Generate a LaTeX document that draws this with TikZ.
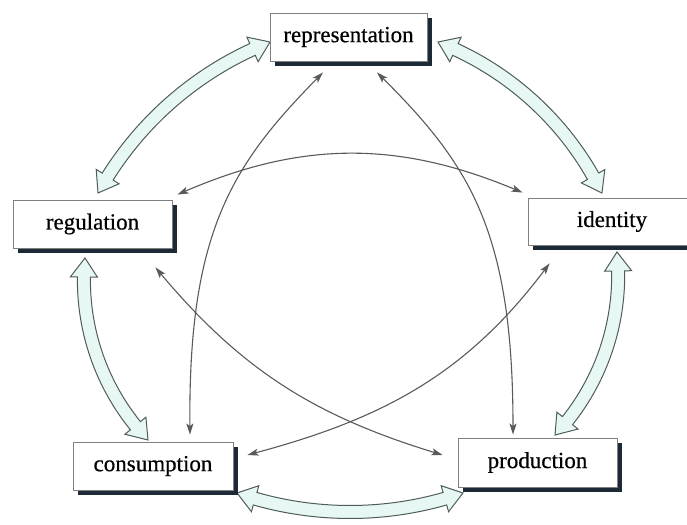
\documentclass[tikz,border=0pt]{standalone}
\usepackage{fontspec}
\setmainfont{Liberation Serif}
\newfontfamily\lblfont[UprightFeatures={FakeBold=0.5}]{Liberation Serif}
\usetikzlibrary{arrows.meta,shadows}
\definecolor{hfill}{HTML}{E6F7F4}
\definecolor{hline}{HTML}{4E5C5A}
\definecolor{shadowc}{HTML}{1B2A36}
\definecolor{thinc}{HTML}{5A5A5A}
\tikzset{
  box/.style={draw=black!50, line width=0.9pt, fill=white, minimum height=48pt,
    inner sep=0pt, font=\lblfont\fontsize{23}{26}\selectfont,
    general shadow={fill=shadowc, shadow xshift=5pt, shadow yshift=-5pt}},
  harrow/.style={fill=hfill, draw=hline, line width=1pt, line join=miter},
  thinarr/.style={draw=thinc, line width=1.1pt,
    {Stealth[length=11pt,width=7pt,inset=2.5pt]}-{Stealth[length=11pt,width=7pt,inset=2.5pt]}}
}
% #1,#2 centre, #3 radius, #4 start angle, #5 end angle, #6 head angle
\newcommand{\hollowarc}[6]{%
  \filldraw[harrow, shift={(#1,#2)}]
    (#4:#3) -- ({#4+#6}:{#3+13.5}) -- ({#4+#6}:{#3+6.5})
    arc[start angle={#4+#6}, end angle={#5-#6}, radius={#3+6.5}]
    -- ({#5-#6}:{#3+13.5}) -- (#5:#3) -- ({#5-#6}:{#3-13.5}) -- ({#5-#6}:{#3-6.5})
    arc[start angle={#5-#6}, end angle={#4+#6}, radius={#3-6.5}]
    -- ({#4+#6}:{#3-13.5}) -- cycle;}
\begin{document}
\begin{tikzpicture}[x=1pt,y=1pt]
\useasboundingbox[fill=white] (0,0) rectangle (687,524);
% hollow double arrows
\hollowarc{393.4}{168.0}{337.4}{111.45}{151.11}{3.23}
\hollowarc{326.7}{196.6}{306.3}{26.02}{68.70}{3.55}
\hollowarc{385.5}{248.4}{232.7}{-43.24}{5.82}{4.68}
\hollowarc{315.2}{243.8}{231.3}{174.49}{223.70}{4.71}
\hollowarc{350}{357.5}{345.5}{250.91}{289.09}{3.15}
% boxes
\node[box, minimum width=157pt] (rep) at (348.5,487) {representation};
\node[box, minimum width=159pt] (reg) at (92.5,300) {regulation};
\node[box, minimum width=168pt, minimum height=47pt] (id) at (612,302.5) {identity};
\node[box, minimum width=160pt] (cons) at (153,58) {consumption};
\node[box, minimum width=159pt, minimum height=49pt] (prod) at (537.5,61.5) {production};
% thin arrows
\draw[thinarr] ([shift={(5,5)}]reg.north east) to[bend left=23] ([shift={(-5,5)}]id.north west);
\draw[thinarr] ([shift={(-25.5,-11)}]rep.south) .. controls (232,359) and (188,292) .. ([shift={(37,7)}]cons.north);
\draw[thinarr] ([shift={(28.5,-11)}]rep.south) .. controls (470,359) and (513,292) .. ([shift={(-24.5,3)}]prod.north);
\draw[thinarr] ([shift={(-17,-19)}]reg.south east) to[out=-50,in=163] ([shift={(-15,7.5)}]prod.west);
\draw[thinarr] ([shift={(22,-18)}]id.south west) to[out=233,in=15] ([shift={(14,11)}]cons.east);
\end{tikzpicture}
\end{document}
